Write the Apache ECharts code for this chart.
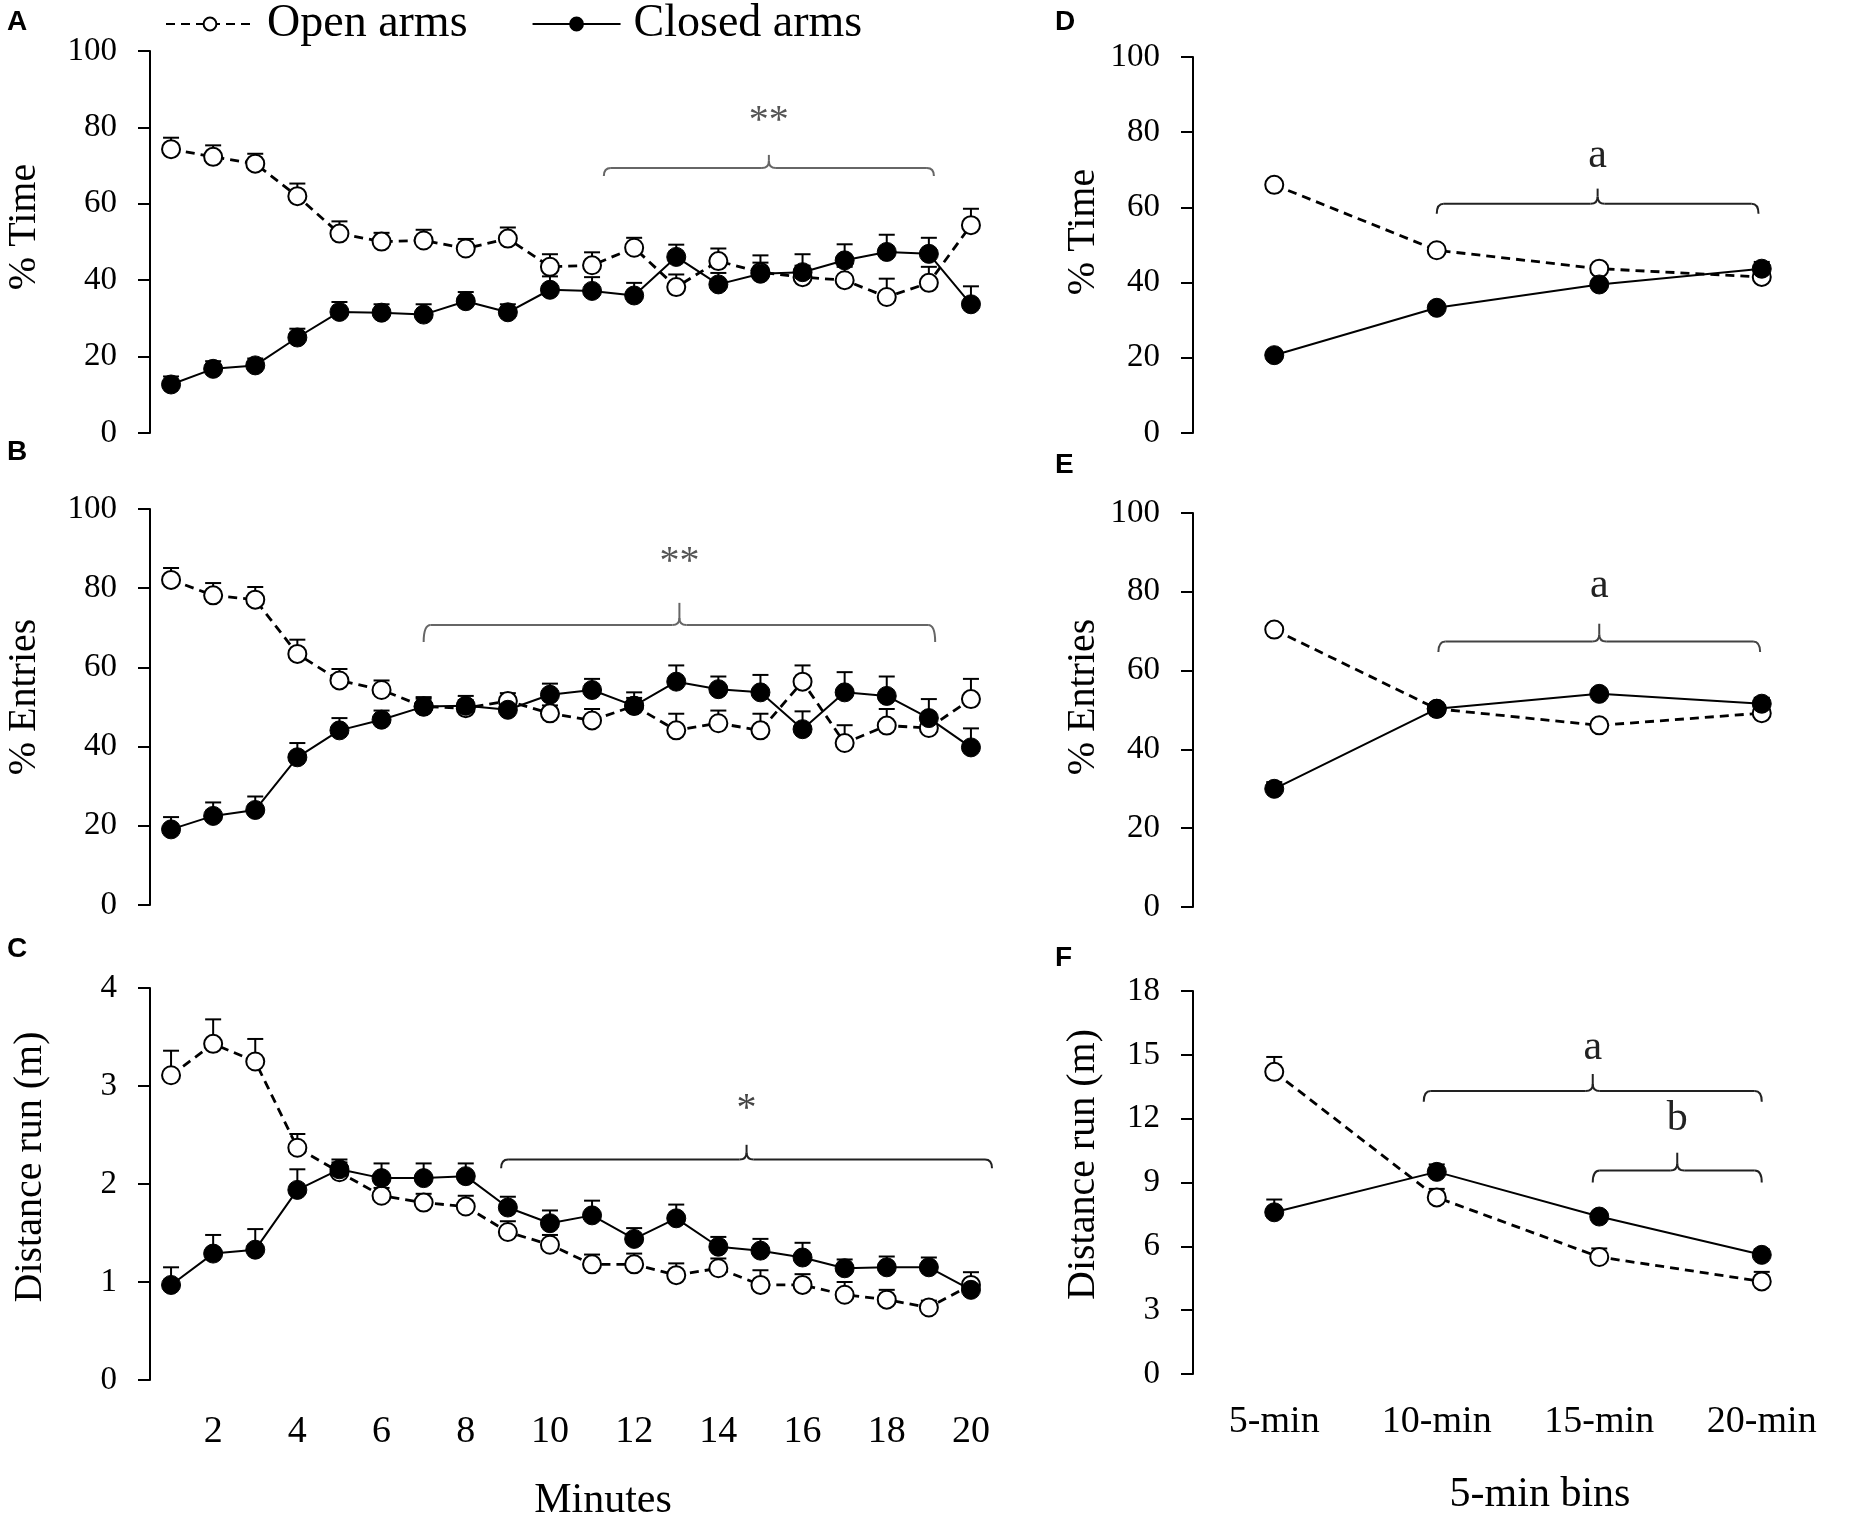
<!DOCTYPE html>
<html>
<head>
<meta charset="utf-8">
<script src="https://cdn.jsdelivr.net/npm/echarts@6/dist/echarts.min.js"></script>
<style>
html, body { margin: 0; padding: 0; background: #fff; }
#chart { width: 1850px; height: 1521px; }
</style>
</head>
<body>
<div id="chart"></div>
<script>
var minutes = [1, 2, 3, 4, 5, 6, 7, 8, 9, 10, 11, 12, 13, 14, 15, 16, 17, 18, 19, 20];
var minuteTicks = [2, 4, 6, 8, 10, 12, 14, 16, 18, 20];
var bins = ['5-min', '10-min', '15-min', '20-min'];

// A - % time, per minute
var timeOpen = [74.3, 72.3, 70.5, 62.0, 52.2, 50.1, 50.4, 48.3, 50.9, 43.5, 43.9, 48.5, 38.2, 45.0, 42.1, 40.8, 40.0, 35.6, 39.3, 54.4];
var timeOpenSem = [3.0, 3.0, 2.6, 3.3, 3.2, 2.3, 2.8, 2.5, 2.9, 3.3, 3.4, 2.6, 3.3, 3.3, 2.5, 3.0, 3.5, 4.8, 4.2, 4.3];
var timeClosed = [12.7, 16.8, 17.7, 25.0, 31.7, 31.5, 31.0, 34.5, 31.6, 37.5, 37.2, 36.0, 46.1, 38.9, 41.7, 42.1, 45.2, 47.4, 46.9, 33.7];
var timeClosedSem = [2.1, 2.0, 1.8, 2.3, 2.6, 2.2, 2.7, 2.4, 2.1, 3.5, 3.6, 3.3, 3.2, 3.0, 4.8, 4.7, 4.2, 4.5, 4.2, 4.7];

// B - % entries, per minute
var entOpen = [82.1, 78.2, 77.1, 63.4, 56.7, 54.3, 50.1, 49.7, 51.5, 48.4, 46.6, 50.3, 44.1, 45.9, 44.1, 56.4, 40.9, 45.3, 44.7, 52.0];
var entOpenSem = [3.0, 3.1, 3.2, 3.6, 2.9, 2.4, 2.0, 2.0, 2.0, 2.0, 2.9, 2.0, 4.2, 3.2, 4.2, 4.1, 4.5, 4.2, 2.0, 5.1];
var entClosed = [19.1, 22.5, 24.0, 37.3, 44.1, 46.8, 50.1, 50.3, 49.3, 53.1, 54.3, 50.3, 56.4, 54.5, 53.7, 44.4, 53.7, 52.8, 47.2, 39.8];
var entClosedSem = [3.1, 3.4, 3.4, 3.6, 3.1, 2.3, 2.4, 2.5, 2.0, 2.8, 2.8, 3.4, 4.1, 3.2, 4.4, 4.5, 5.1, 4.9, 4.8, 4.8];

// C - distance run (m), per minute
var distOpen = [3.11, 3.43, 3.25, 2.37, 2.12, 1.88, 1.81, 1.77, 1.51, 1.38, 1.18, 1.18, 1.07, 1.14, 0.97, 0.97, 0.87, 0.82, 0.74, 0.97];
var distOpenSem = [0.25, 0.25, 0.23, 0.14, 0.10, 0.08, 0.09, 0.11, 0.11, 0.10, 0.10, 0.11, 0.12, 0.10, 0.15, 0.11, 0.13, 0.10, 0.07, 0.13];
var distClosed = [0.97, 1.29, 1.33, 1.94, 2.15, 2.06, 2.06, 2.08, 1.76, 1.60, 1.68, 1.44, 1.65, 1.36, 1.32, 1.25, 1.14, 1.15, 1.15, 0.92];
var distClosedSem = [0.18, 0.19, 0.21, 0.21, 0.10, 0.15, 0.15, 0.13, 0.11, 0.13, 0.15, 0.11, 0.14, 0.10, 0.12, 0.15, 0.09, 0.11, 0.10, 0.10];

// D-F - 5-min bins
var binTimeOpen = [66.0, 48.6, 43.7, 41.5];
var binTimeOpenSem = [1.0, 1.0, 1.0, 1.2];
var binTimeClosed = [20.7, 33.3, 39.5, 43.7];
var binTimeClosedSem = [1.0, 1.0, 1.0, 1.8];
var binEntOpen = [70.4, 50.3, 46.1, 49.2];
var binEntOpenSem = [1.0, 1.0, 1.0, 1.0];
var binEntClosed = [30.0, 50.3, 54.1, 51.6];
var binEntClosedSem = [1.7, 1.2, 1.2, 1.5];
var binDistOpen = [14.2, 8.3, 5.5, 4.35];
var binDistOpenSem = [0.7, 0.4, 0.4, 0.45];
var binDistClosed = [7.6, 9.5, 7.4, 5.6];
var binDistClosedSem = [0.6, 0.35, 0.2, 0.25];

// significance brackets: [from x, to x, line y, end y, tip y, text y, text]
var bracketsA = [[11.28, 19.12, 69.4, 67.3, 72.8, 81.5, '**']];
var bracketsB = [[7.0, 19.15, 70.7, 66.4, 76.3, 86.5, '**']];
var bracketsC = [[8.84, 20.5, 2.25, 2.16, 2.40, 2.76, '*']];
var bracketsD = [[2.0, 3.98, 61.0, 58.3, 65.0, 73.8, 'a']];
var bracketsE = [[2.01, 3.99, 67.4, 64.7, 71.9, 81.6, 'a']];
var bracketsF = [[1.92, 4.0, 13.3, 12.8, 14.1, 15.3, 'a'], [2.96, 4.0, 9.56, 9.0, 10.4, 12.0, 'b']];

var serif = 'Liberation Serif';
var binPos = bins.map(function (b, i) { return i + 1 });

var myChart = echarts.init(document.getElementById('chart'))

var grids = [
	{ left: 150, top: 51, width: 842, height: 382 },
	{ left: 150, top: 509, width: 842, height: 396 },
	{ left: 150, top: 988, width: 842, height: 392 },
	{ left: 1193, top: 57, width: 650, height: 376 },
	{ left: 1193, top: 513, width: 650, height: 394 },
	{ left: 1193, top: 991, width: 650, height: 383 }
]
grids.forEach(function (g) { g.outerBoundsMode = 'none' })

function makeX(gi, isBins, showLabel, name, shift) {
	return {
		type: 'value',
		gridIndex: gi,
		min: 0.5,
		max: isBins ? 4.5 : 20.5,
		axisLine: { show: false },
		axisTick: { show: false },
		splitLine: { show: false },
		axisLabel: {
			show: showLabel,
			customValues: isBins ? binPos : minuteTicks,
			formatter: function (v) { return isBins ? bins[v - 1] : String(v) },
			fontFamily: serif,
			fontSize: 38,
			color: '#000',
			margin: isBins ? 29 : 33
		},
		name: name || '',
		nameLocation: 'middle',
		nameGap: 100,
		nameTextStyle: {
			fontFamily: serif,
			fontSize: 42,
			color: '#000',
			padding: [0, 0, 0, shift || 0]
		}
	}
}

function makeY(gi, max, interval, name, gap, lift) {
	return {
		type: 'value',
		gridIndex: gi,
		min: 0,
		max: max,
		interval: interval,
		axisLine: { show: true, lineStyle: { color: '#000', width: 2 } },
		axisTick: { show: true, length: 12, lineStyle: { color: '#000', width: 2 } },
		splitLine: { show: false },
		axisLabel: { fontFamily: serif, fontSize: 33, color: '#000', margin: 33 },
		name: name,
		nameLocation: 'middle',
		nameGap: gap,
		nameTextStyle: { fontFamily: serif, fontSize: 40, color: '#000', padding: [0, 0, 0, lift] }
	}
}

function pairs(xs, ys) {
	return xs.map(function (x, i) { return [x, ys[i]] })
}

function errRender(params, api) {
	var x = api.value(0)
	var p0 = api.coord([x, api.value(1)])
	var p1 = api.coord([x, api.value(2)])
	var half = 8
	return {
		type: 'group',
		children: [
			{ type: 'line', shape: { x1: p0[0], y1: p0[1], x2: p1[0], y2: p1[1] }, style: { stroke: '#000', lineWidth: 2 } },
			{ type: 'line', shape: { x1: p1[0] - half, y1: p1[1], x2: p1[0] + half, y2: p1[1] }, style: { stroke: '#000', lineWidth: 2 } }
		]
	}
}

function lineSeries(gi, name, xs, ys, open) {
	return {
		name: name,
		type: 'line',
		xAxisIndex: gi,
		yAxisIndex: gi,
		data: pairs(xs, ys),
		symbol: 'circle',
		symbolSize: open ? 18 : 19,
		z: 3,
		lineStyle: { color: '#000', width: open ? 2.8 : 2, type: open ? [9, 6] : 'solid' },
		itemStyle: open ? { color: '#fff', borderColor: '#000', borderWidth: 2 } : { color: '#000', borderColor: '#000', borderWidth: 1 },
		emphasis: { disabled: true },
		animation: false
	}
}

function errSeries(gi, xs, ys, sem) {
	return {
		type: 'custom',
		xAxisIndex: gi,
		yAxisIndex: gi,
		z: 1,
		silent: true,
		renderItem: errRender,
		encode: { x: 0, y: [1, 2] },
		data: xs.map(function (x, i) { return [x, ys[i], ys[i] + sem[i]] }),
		animation: false
	}
}

function bracketSeries(gi, list, color, textColor, fontSize) {
	return {
		type: 'custom',
		xAxisIndex: gi,
		yAxisIndex: gi,
		z: 0,
		silent: true,
		data: list.map(function (b) { return [b[0], b[2]] }),
		renderItem: function (params, api) {
			var b = list[params.dataIndex]
			var l = api.coord([b[0], b[2]])
			var r = api.coord([b[1], b[2]])
			var yEnd = api.coord([b[0], b[3]])[1]
			var yTip = api.coord([b[0], b[4]])[1]
			var yText = api.coord([b[0], b[5]])[1]
			var y = l[1]
			var xc = (l[0] + r[0]) / 2
			var k = 7
			var st = { stroke: color, lineWidth: 2, fill: null }
			return {
				type: 'group',
				children: [
					{ type: 'bezierCurve', shape: { x1: l[0], y1: yEnd, cpx1: l[0], cpy1: y, x2: l[0] + k, y2: y }, style: st },
					{ type: 'line', shape: { x1: l[0] + k, y1: y, x2: xc - k, y2: y }, style: st },
					{ type: 'bezierCurve', shape: { x1: xc - k, y1: y, cpx1: xc, cpy1: y, x2: xc, y2: y - k }, style: st },
					{ type: 'line', shape: { x1: xc, y1: y - k, x2: xc, y2: yTip }, style: st },
					{ type: 'bezierCurve', shape: { x1: xc, y1: y - k, cpx1: xc, cpy1: y, x2: xc + k, y2: y }, style: st },
					{ type: 'line', shape: { x1: xc + k, y1: y, x2: r[0] - k, y2: y }, style: st },
					{ type: 'bezierCurve', shape: { x1: r[0] - k, y1: y, cpx1: r[0], cpy1: y, x2: r[0], y2: yEnd }, style: st },
					{ type: 'text', style: { text: b[6], x: xc, y: yText, align: 'center', verticalAlign: 'middle', fill: textColor, fontFamily: serif, fontSize: fontSize } }
				]
			}
		},
		animation: false
	}
}

var panels = [
	{ xs: minutes, open: timeOpen, openSem: timeOpenSem, closed: timeClosed, closedSem: timeClosedSem, br: bracketsA, brColor: '#666', txtColor: '#555', fs: 40 },
	{ xs: minutes, open: entOpen, openSem: entOpenSem, closed: entClosed, closedSem: entClosedSem, br: bracketsB, brColor: '#666', txtColor: '#555', fs: 40 },
	{ xs: minutes, open: distOpen, openSem: distOpenSem, closed: distClosed, closedSem: distClosedSem, br: bracketsC, brColor: '#222', txtColor: '#444', fs: 40 },
	{ xs: binPos, open: binTimeOpen, openSem: binTimeOpenSem, closed: binTimeClosed, closedSem: binTimeClosedSem, br: bracketsD, brColor: '#222', txtColor: '#222', fs: 42 },
	{ xs: binPos, open: binEntOpen, openSem: binEntOpenSem, closed: binEntClosed, closedSem: binEntClosedSem, br: bracketsE, brColor: '#444', txtColor: '#222', fs: 42 },
	{ xs: binPos, open: binDistOpen, openSem: binDistOpenSem, closed: binDistClosed, closedSem: binDistClosedSem, br: bracketsF, brColor: '#222', txtColor: '#222', fs: 42 }
]

var series = []
panels.forEach(function (p, gi) {
	series.push(bracketSeries(gi, p.br, p.brColor, p.txtColor, p.fs))
	series.push(errSeries(gi, p.xs, p.open, p.openSem))
	series.push(errSeries(gi, p.xs, p.closed, p.closedSem))
	series.push(lineSeries(gi, 'Open arms', p.xs, p.open, true))
	series.push(lineSeries(gi, 'Closed arms', p.xs, p.closed, false))
})

var letters = [['A', 7, 8], ['B', 7, 438], ['C', 7, 935], ['D', 1055, 8], ['E', 1055, 451], ['F', 1055, 944]]

var option = {
	backgroundColor: '#fff',
	animation: false,
	grid: grids,
	legend: {
		data: ['Open arms', 'Closed arms'],
		left: 160,
		top: -4,
		itemWidth: 88,
		itemHeight: 16,
		itemGap: 64,
		selectedMode: false,
		textStyle: { fontFamily: serif, fontSize: 46, color: '#000', padding: [0, 0, 0, 8] }
	},
	xAxis: [
		makeX(0, false, false),
		makeX(1, false, false),
		makeX(2, false, true, 'Minutes', 64),
		makeX(3, true, false),
		makeX(4, true, false),
		makeX(5, true, true, '5-min bins', 44)
	],
	yAxis: [
		makeY(0, 100, 20, '% Time', 106, 30),
		makeY(1, 100, 20, '% Entries', 106, 20),
		makeY(2, 4, 1, 'Distance run (m)', 100, 34),
		makeY(3, 100, 20, '% Time', 90, 26),
		makeY(4, 100, 20, '% Entries', 90, 26),
		makeY(5, 18, 3, 'Distance run (m)', 90, 36)
	],
	graphic: letters.map(function (t) {
		return {
			type: 'text',
			left: t[1],
			top: t[2],
			style: { text: t[0], fontFamily: 'Liberation Sans', fontWeight: 'bold', fontSize: 28, fill: '#000' }
		}
	}),
	series: series
}
myChart.setOption(option)
</script>
</body>
</html>
